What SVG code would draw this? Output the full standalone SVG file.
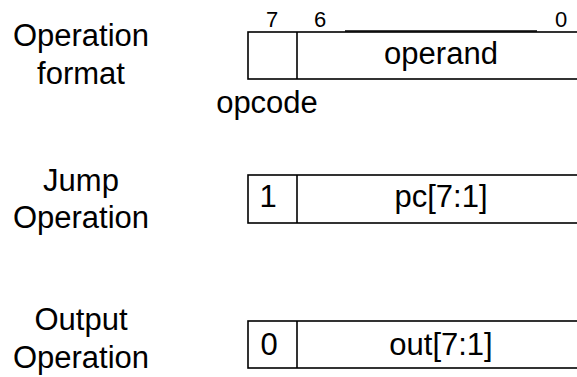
<svg xmlns="http://www.w3.org/2000/svg" width="577" height="377" viewBox="0 0 577 377">
<style>
text{font-family:"Liberation Sans",Arial,sans-serif;fill:#000}
.lbl{font-size:31px;text-anchor:middle}
.big{font-size:31px;text-anchor:middle}
.bit{font-size:22px;text-anchor:middle}
.box{fill:#fff;stroke:#000;stroke-width:1.6}
.ln{stroke:#000;stroke-width:1.6;fill:none}
</style>
<rect width="577" height="377" fill="#fff"/>
<g id="labels">
<text class="lbl" x="81" y="46">Operation</text>
<text class="lbl" x="81" y="84">format</text>
<text class="lbl" x="81" y="191">Jump</text>
<text class="lbl" x="81" y="228">Operation</text>
<text class="lbl" x="81" y="330">Output</text>
<text class="lbl" x="81" y="368">Operation</text>
</g>
<g id="format">
<rect class="box" x="248" y="32" width="340" height="47"/>
<line class="ln" x1="297" y1="32" x2="297" y2="79"/>
<line class="ln" x1="345" y1="31" x2="537" y2="31"/>
<text class="bit" x="272" y="26.5">7</text>
<text class="bit" x="320" y="26.5">6</text>
<text class="bit" x="561" y="26.5">0</text>
<text class="big" x="441" y="64">operand</text>
<text class="big" x="267" y="113">opcode</text>
</g>
<g id="jump">
<rect class="box" x="248" y="175" width="340" height="48"/>
<line class="ln" x1="297" y1="175" x2="297" y2="223"/>
<text class="big" x="268" y="207">1</text>
<text class="big" x="441" y="207">pc[7:1]</text>
</g>
<g id="output">
<rect class="box" x="248" y="321" width="340" height="47"/>
<line class="ln" x1="297" y1="321" x2="297" y2="368"/>
<text class="big" x="269" y="355">0</text>
<text class="big" x="441" y="355">out[7:1]</text>
</g>
<g id="connectors"></g>
</svg>
